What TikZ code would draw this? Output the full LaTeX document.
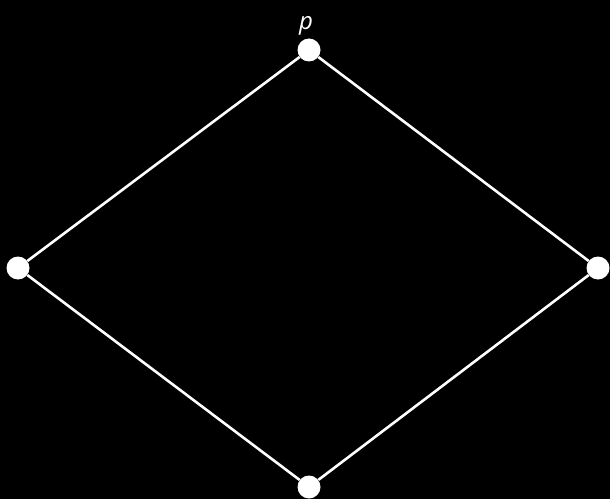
\documentclass[tikz,border=0pt]{standalone}
\usepackage{fontspec}
\setmainfont{Open Sans}
\usetikzlibrary{positioning}

\begin{document}
\begin{tikzpicture}[
    x=1pt, y=1pt,
    vertex/.style={
        circle, fill=white, draw=none, inner sep=0pt, minimum size=23pt
    },
    edge/.style={draw=white, line width=2.6pt},
    lbl/.style={font=\fontsize{24}{28}\selectfont\itshape, text=white, inner sep=1pt},
]

% Background
\fill[black] (0,0) rectangle (610,499);
\useasboundingbox (0,0) rectangle (610,499);

% Nodes
\node[vertex] (top) at (309,449) {};
\node[vertex] (left) at (18,231) {};
\node[vertex] (right) at (598,231) {};
\node[vertex] (bottom) at (309,12) {};

% Label
\node[lbl, above=2pt of top, xshift=-3pt] (ptop) {p};

% Edges
\draw[edge] (top) -- (left);
\draw[edge] (top) -- (right);
\draw[edge] (left) -- (bottom);
\draw[edge] (right) -- (bottom);

\end{tikzpicture}
\end{document}
